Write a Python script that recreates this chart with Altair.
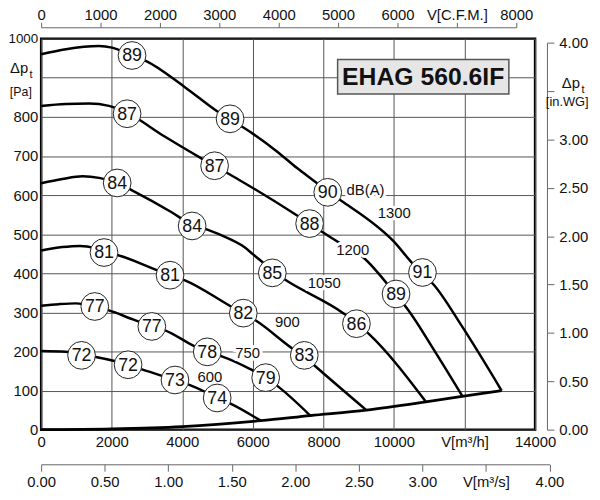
import altair as alt
import pandas as pd

# fan curves: air flow V [m3/h] against total pressure dp_t [Pa], one per speed
speeds = ['600', '750', '900', '1050', '1200', '1300']

v600 = [0, 700, 1145, 1549, 2109, 2464, 2856, 3793, 4167, 4989, 5382, 6223]
p600 = [201, 199, 192, 186, 175, 166, 154, 127, 116, 82, 66, 23]

v750 = [0, 500, 987, 1520, 1922, 2600, 3137, 3513, 4355, 4708, 5101, 5943, 6364, 6692, 7627]
p750 = [317, 321, 323, 315, 305, 282, 265, 254, 213, 199, 188, 154, 133, 112, 36]

v900 = [0, 600, 1100, 1500, 1782, 2109, 3277, 3653, 4074, 5382, 5729, 6083, 7160, 7458, 7722, 9217]
p900 = [458, 467, 470, 465, 454, 448, 408, 395, 382, 315, 298, 279, 205, 187, 166, 50]

v1050 = [0, 600, 1173, 1641, 2155, 2576, 3698, 4279, 4728, 5289, 5757, 6038, 6319, 6616, 6973, 8563, 8936, 9310, 10900]
p1050 = [630, 641, 648, 644, 631, 612, 556, 524, 511, 490, 467, 446, 425, 401, 380, 298, 273, 243, 72]

v1200 = [0, 700, 1361, 1922, 2436, 3513, 4540, 4916, 7200, 7609, 8328, 9125, 10040, 10387, 11181, 11930]
p1200 = [828, 833, 834, 828, 810, 749, 694, 675, 551, 527, 485, 441, 347, 308, 197, 87]

v1300 = [0, 700, 1640, 2010, 2576, 2950, 4074, 5008, 5354, 5710, 6692, 7253, 7813, 8123,
         8516, 9966, 10620, 10808, 11134, 11930, 13050]
p1300 = [960, 973, 981, 977, 957, 944, 876, 813, 793, 774, 711, 669, 631, 609,
         585, 484, 416, 400, 370, 264, 100]

# system (limit) curve along the bottom
sys_v = [0, 2000, 4000, 6223, 7627, 9217, 10900, 11930, 13050]
sys_p = [0, 2, 8, 23, 36, 50, 71, 85, 100]

# sound level circles dB(A)
db_v = [1145, 2464, 3793, 4989,
        1520, 3137, 4708, 6364,
        1782, 3653, 5729, 7458,
        2155, 4279, 6552, 8936,
        2436, 4916, 7609, 10059,
        2576, 5354, 8123, 10808]
db_p = [190, 166, 127, 81,
        315, 264, 199, 133,
        453, 395, 298, 190,
        631, 521, 401, 271,
        808, 675, 527, 347,
        957, 795, 607, 402]
db_val = ['72', '72', '73', '74',
          '77', '77', '78', '79',
          '81', '81', '82', '83',
          '84', '84', '85', '86',
          '87', '87', '88', '89',
          '89', '89', '90', '91']

# speed labels
lab_text = ['dB(A)', '1300', '1200', '1050', '900', '750', '600']
lab_v = [9194, 10011, 8834, 8025, 6981, 5850, 4784]
lab_p = [614, 555, 460, 376, 274, 196, 135]

# axis ticks
x_ticks = [0, 2000, 4000, 6000, 8000, 10000, 12000, 14000]
y_ticks = [0, 100, 200, 300, 400, 500, 600, 700, 800, 900, 1000]
cfm_ticks = [0, 1000, 2000, 3000, 4000, 5000, 6000, 7000, 8000]
ms_ticks = [0, 0.5, 1.0, 1.5, 2.0, 2.5, 3.0, 3.5, 4.0]
wg_ticks = [0, 0.5, 1.0, 1.5, 2.0, 2.5, 3.0, 3.5, 4.0]

FONT = 'Liberation Sans'

vs = [v600, v750, v900, v1050, v1200, v1300]
ps = [p600, p750, p900, p1050, p1200, p1300]
rows = []
for s, vv, pp in zip(speeds, vs, ps):
    for i, (a, b) in enumerate(zip(vv, pp)):
        rows.append({'rpm': s, 'i': i, 'v': a, 'p': b})
curves_df = pd.DataFrame(rows)
sys_df = pd.DataFrame({'v': sys_v, 'p': sys_p, 'i': range(len(sys_v))})
db_df = pd.DataFrame({'v': db_v, 'p': db_p, 'db': db_val})
lab_df = pd.DataFrame({'v': lab_v, 'p': lab_p, 't': lab_text})

xs = alt.Scale(domain=[0, 14000], nice=False, zero=False)
ys = alt.Scale(domain=[0, 1000], nice=False, zero=False)
grid = dict(grid=True, gridColor='#555', gridWidth=1, gridOpacity=1,
            ticks=False, domain=False, labelFlush=False,
            labelOverlap=False, title=None, format='d')

X = alt.X('v:Q', scale=xs, axis=alt.Axis(
    values=x_ticks, labelPadding=5,
    labelExpr="datum.value == 12000 ? 'V[m³/h]' : datum.label", **grid))
Y = alt.Y('p:Q', scale=ys, axis=alt.Axis(
    values=y_ticks, tickCount=11, labelPadding=3.5,
    labelFontSize={'condition': {'test': 'datum.value == 1000', 'value': 13.5}, 'value': 15},
    labelExpr="datum.value == 900 ? '' : datum.label", **grid))

lines = alt.Chart(curves_df).mark_line(
    color='black', strokeWidth=2.5, interpolate='monotone'
).encode(x=X, y=Y, detail='rpm:N', order='i:Q')

system = alt.Chart(sys_df).mark_line(
    color='black', strokeWidth=2.8, interpolate='monotone'
).encode(x=X, y=Y, order='i:Q')

halo = alt.Chart(lab_df).mark_text(
    fontSize=15, baseline='middle', stroke='white', strokeWidth=6, color='white'
).encode(x=X, y=Y, text='t:N')
labels = alt.Chart(lab_df).mark_text(
    fontSize=15, baseline='middle', color='#111'
).encode(x=X, y=Y, text='t:N')

circles = alt.Chart(db_df).mark_circle(
    size=784, fill='white', stroke='#222', strokeWidth=1, opacity=1
).encode(x=X, y=Y)
circle_txt = alt.Chart(db_df).mark_text(
    fontSize=18, baseline='middle', dy=1, color='#111'
).encode(x=X, y=Y, text='db:N')

one = pd.DataFrame({'a': [0]})
box = alt.Chart(one).mark_rect(
    fill='#e6e6e6', stroke='#555', strokeWidth=1.5
).encode(x=alt.value(299.5), x2=alt.value(472.5), y=alt.value(21), y2=alt.value(56))
box_txt = alt.Chart(one).mark_text(
    text='EHAG 560.6IF', fontSize=25, fontWeight='bold', baseline='middle', color='#111'
).encode(x=alt.value(386), y=alt.value(39))


def note(txt, x, y, size, base='alphabetic'):
    return alt.Chart(one).mark_text(
        text=txt, fontSize=size, baseline=base, color='#111'
    ).encode(x=alt.value(x), y=alt.value(y))


titles = [
    note('Δp', -22.3, 34.5, 15), note('t', -10.2, 39.5, 11),
    note('[Pa]', -20.5, 53.5, 12.5, 'middle'),
    note('Δp', 535.2, 49.5, 15), note('t', 547.5, 54.5, 11),
    note('[in.WG]', 531.5, 64.5, 13, 'middle'),
]

main = alt.layer(lines, system, halo, labels, circles, circle_txt, box, box_txt, *titles)

sec_axis = dict(title=None, domainColor='#666', tickColor='#666', labelFlush=False,
                labelOverlap=False, grid=False, labelColor='#111')

top_axis = alt.Chart(pd.DataFrame({'cfm': cfm_ticks})).mark_point(opacity=0).encode(
    x=alt.X('cfm:Q', scale=alt.Scale(domain=[0, 8000], range=[0, 480], nice=False),
            axis=alt.Axis(orient='top', offset=11.5, values=cfm_ticks, format='d',
                          tickSize=5, labelPadding=0,
                          labelExpr="datum.value == 7000 ? 'V[C.F.M.]' : datum.label",
                          **sec_axis)))

ms_axis = alt.Chart(pd.DataFrame({'ms': ms_ticks})).mark_point(opacity=0).encode(
    x=alt.X('ms:Q', scale=alt.Scale(domain=[0, 4], range=[0, 513.5], nice=False),
            axis=alt.Axis(orient='bottom', offset=35, values=ms_ticks, format='.2f',
                          tickSize=7, labelPadding=3,
                          labelExpr="datum.value == 3.5 ? 'V[m³/s]' : datum.label",
                          **sec_axis)))

wg_axis = alt.Chart(pd.DataFrame({'wg': wg_ticks})).mark_point(opacity=0).encode(
    y=alt.Y('wg:Q', scale=alt.Scale(domain=[0, 4], range=[395, 4], nice=False),
            axis=alt.Axis(orient='right', offset=12, values=wg_ticks, format='.2f',
                          tickSize=7, labelPadding=5,
                          labelExpr="datum.value == 3.5 ? '' : datum.label",
                          **sec_axis)))

chart = alt.layer(main, top_axis, ms_axis, wg_axis).resolve_scale(
    x='independent', y='independent'
).properties(
    width=499, height=395,
    padding={'left': 33.5, 'top': 28.5, 'right': 57.5, 'bottom': 60},
    autosize=alt.AutoSizeParams(type='none'),
).configure(font=FONT).configure_axis(
    labelFont=FONT, labelFontSize=15, labelColor='#111'
).configure_text(font=FONT).configure_view(
    stroke='black', strokeWidth=2.5, fill='white'
)

chart.save('out.html', embed_options={'renderer': 'svg', 'actions': False})
